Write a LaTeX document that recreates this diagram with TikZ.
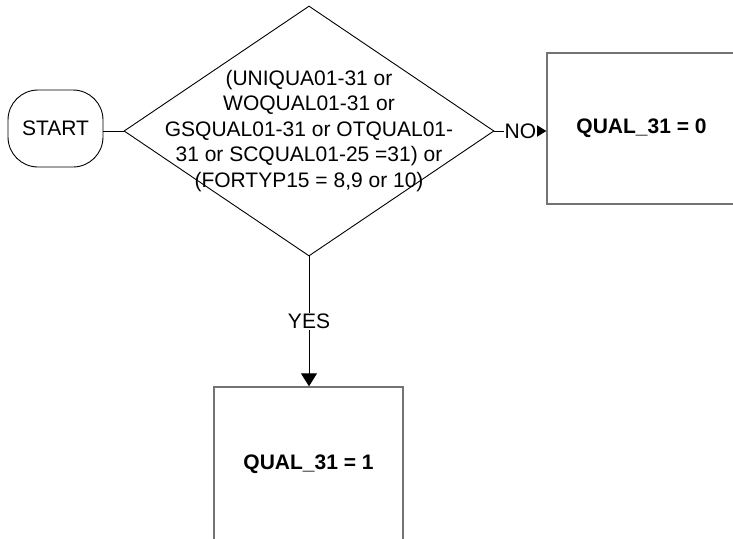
\documentclass[tikz,border=0pt]{standalone}
\usepackage{fontspec}
\setmainfont{Liberation Sans}
\usetikzlibrary{shapes.geometric,arrows.meta}
\tikzset{
  txt/.style={font=\fontsize{21}{25.5}\selectfont},
  startbox/.style={draw=black, line width=0.9pt, rounded corners=30pt, minimum width=95pt, minimum height=77pt, inner sep=0pt, txt},
  decbox/.style={draw=black, line width=0.9pt, diamond, minimum width=370pt, minimum height=250pt, inner sep=0pt},
  resbox/.style={draw=black!55, line width=1.4pt, inner sep=0pt, font=\fontsize{21}{25.5}\selectfont\bfseries},
  conn/.style={draw=black, line width=0.9pt},
  arr/.style={conn, -{Triangle[length=13pt,width=16pt]}},
  lbl/.style={fill=white, inner sep=1pt, txt},
}
\begin{document}
\begin{tikzpicture}[x=1pt,y=-1pt]
\useasboundingbox (0,0) rectangle (733,538);
\clip (0,0) rectangle (733,538);
\node[startbox] (start) at (55.5,128.5) {START};
\node[decbox] (d) at (309,131) {};
\node[txt, align=center, inner sep=0pt] (dtext) at (d.center) {(UNIQUA01-31 or\\WOQUAL01-31 or\\GSQUAL01-31 or OTQUAL01-\\31 or SCQUAL01-25 =31) or\\(FORTYP15 = 8,9 or 10)};
\node[resbox, minimum width=196pt, minimum height=151pt] (q0) at (645,128.5) {\hspace*{-7pt}QUAL\_31 = 0};
\node[resbox, minimum width=189pt, minimum height=155pt] (q1) at (308.5,464.5) {\raisebox{2pt}{QUAL\_31 = 1}};
\draw[conn] (d.west -| start.east) -- (d.west);
\draw[arr] (d.east) -- (d.east -| q0.west) node[midway, lbl] (no) {NO};
\draw[arr] (d.south) -- (d.south |- q1.north) node[midway, lbl] (yes) {YES};
\end{tikzpicture}
\end{document}
